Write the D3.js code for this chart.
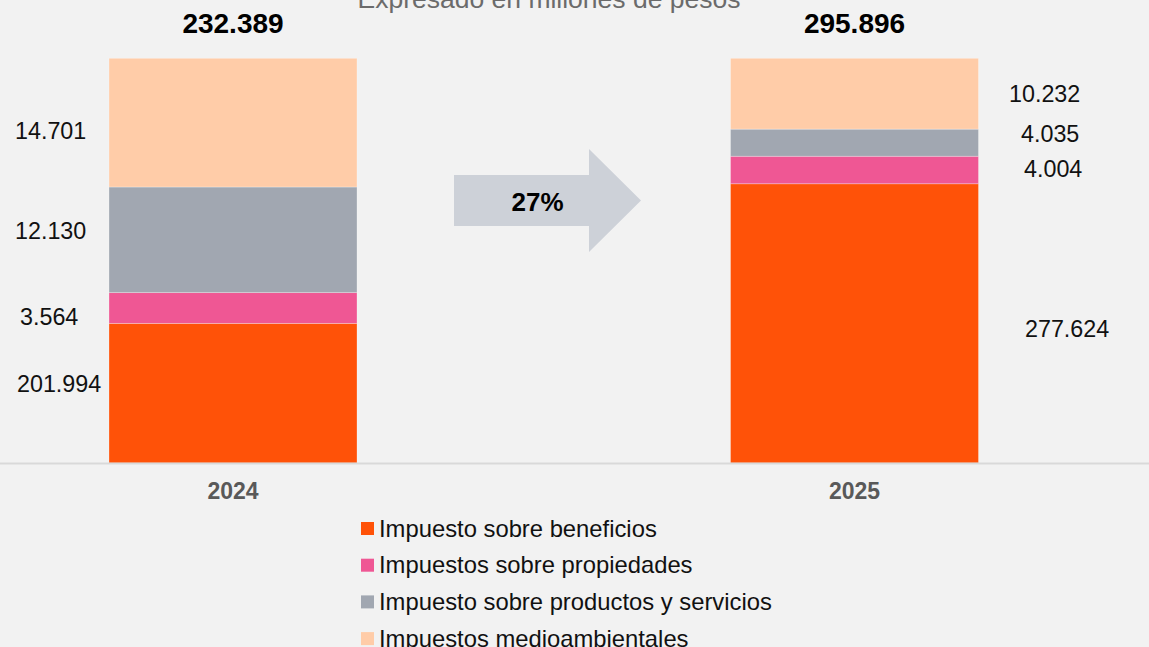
<!DOCTYPE html>
<html>
<head>
<meta charset="utf-8">
<script src="https://cdn.jsdelivr.net/npm/d3@7"></script>
<style>
  html, body { margin: 0; padding: 0; background: #f2f2f2; }
  svg { display: block; font-family: "Liberation Sans", Arial, sans-serif; }
</style>
</head>
<body>
<svg id="chart" width="1149" height="647"></svg>
<script>
// ---- data ----
const years = ["2024", "2025"];
const series = ["Impuesto sobre beneficios", "Impuestos sobre propiedades", "Impuesto sobre productos y servicios", "Impuestos medioambientales"];
const colors = ["#ff5208", "#ef5794", "#a1a7b1", "#ffcca8"];
// values as labelled (millones de pesos)
const values2024 = [201994, 3564, 12130, 14701];
const values2025 = [277624, 4004, 4035, 10232];
const totals = [232389, 295896];
// segment heights as drawn in the picture (share of bar, %)
const drawn2024 = [34.5, 7.6, 26.1, 31.8];
const drawn2025 = [69.0, 6.8, 6.7, 17.5];
const growthLabel = "27%";
const subtitle = "Expresado en millones de pesos";

// ---- layout ----
const W = 1149, H = 647;
const svg = d3.select("#chart");
svg.append("rect").attr("width", W).attr("height", H).attr("fill", "#f2f2f2");

const fmt = v => d3.format(",")(v).replace(/,/g, ".");

const barX = d3.scalePoint().domain(years).range([233, 854.5]);
const barW = 248;
const y = d3.scaleLinear().domain([0, 100]).range([463, 58.3]);

const drawn = [drawn2024, drawn2025];
const vals = [values2024, values2025];

// subtitle (cut at the top, as in the original)
svg.append("text").attr("x", 549).attr("y", 8).attr("text-anchor", "middle")
  .attr("font-size", 26.5).attr("fill", "#6b6b6b").text(subtitle);

// bars
years.forEach((yr, i) => {
  const stack = d3.cumsum(drawn[i]);
  svg.append("g").selectAll("rect").data(drawn[i]).join("rect")
    .attr("x", barX(yr) - barW / 2)
    .attr("width", barW)
    .attr("y", (d, j) => y(stack[j]))
    .attr("height", (d, j) => y(stack[j] - d) - y(stack[j]))
    .attr("fill", (d, j) => colors[j])
    .attr("stroke", "rgba(255,255,255,0.35)")
    .attr("stroke-width", 0.8);
});

// baseline
svg.append("line").attr("x1", 0).attr("x2", W).attr("y1", y(0) + 0.5).attr("y2", y(0) + 0.5)
  .attr("stroke", "#d9d9d9").attr("stroke-width", 2);

// value labels (x anchor start, nudges to match manual placement)
const labelPos = [
  [{x: 17, dy: -9.3}, {x: 20, dy: 9}, {x: 15, dy: -8.5}, {x: 15, dy: 8.5}],
  [{x: 1025, dy: 5.7}, {x: 1024, dy: -1.3}, {x: 1021, dy: -8.8}, {x: 1009, dy: 0}]
];
years.forEach((yr, i) => {
  const stack = d3.cumsum(drawn[i]);
  svg.append("g").selectAll("text").data(vals[i]).join("text")
    .attr("x", (d, j) => labelPos[i][j].x)
    .attr("y", (d, j) => (y(stack[j]) + y(stack[j] - drawn[i][j])) / 2 + labelPos[i][j].dy + 8)
    .attr("font-size", 23.3).attr("fill", "#111")
    .text(d => fmt(d));
  // totals
  svg.append("text").attr("x", barX(yr)).attr("y", 33.3).attr("text-anchor", "middle")
    .attr("font-size", 28).attr("font-weight", "bold").attr("fill", "#000")
    .text(fmt(totals[i]));
  // year axis labels
  svg.append("text").attr("x", barX(yr)).attr("y", 499.3).attr("text-anchor", "middle")
    .attr("font-size", 23).attr("font-weight", "bold").attr("fill", "#595959")
    .text(yr);
});

// growth arrow
const arrow = [[454, 175], [589, 175], [589, 149], [641, 200.5], [589, 252], [589, 226], [454, 226]];
svg.append("path").attr("d", d3.line()(arrow) + "Z").attr("fill", "#cdd1d8");
svg.append("text").attr("x", 537.5).attr("y", 211).attr("text-anchor", "middle")
  .attr("font-size", 26).attr("font-weight", "bold").attr("fill", "#000").text(growthLabel);

// legend
const leg = svg.append("g").attr("transform", "translate(361,522)");
const rows = leg.selectAll("g").data(series).join("g")
  .attr("transform", (d, i) => `translate(0,${i * 36.7})`);
rows.append("rect").attr("width", 13).attr("height", 13).attr("fill", (d, i) => colors[i]);
rows.append("text").attr("x", 18).attr("y", 14.5).attr("font-size", 23.8).attr("fill", "#111").text(d => d);
</script>
</body>
</html>
